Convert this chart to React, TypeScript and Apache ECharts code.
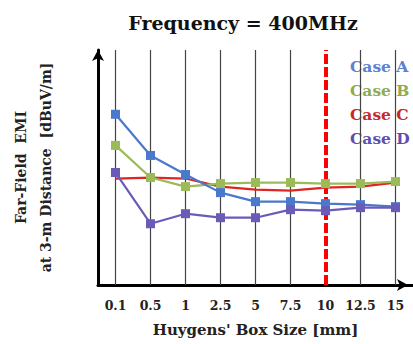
import React, { useEffect, useRef } from "react";
import * as echarts from "echarts";

const categories = ["0.1", "0.5", "1", "2.5", "5", "7.5", "10", "12.5", "15"];
const caseA = [85, 64.5, 55, 46, 41.5, 41.5, 40.5, 40, 39];
const caseB = [69.5, 53.5, 49, 50.5, 51, 51, 50.5, 50.5, 51.5];
const caseC = [53, 53.5, 53, 49, 47.5, 47, 48.5, 49, 51];
const caseD = [56, 30.5, 35.5, 33.5, 33.5, 37.5, 37, 38.5, 38.5];
const markerCategory = "10";

const FONT = "DejaVu Serif";

export default function App() {
  const ref = useRef<HTMLDivElement>(null);
  useEffect(() => {
    const chart = echarts.init(ref.current!, null, { renderer: "svg" });
    const mk = (name: string, data: number[], color: string, symbol: string) => ({
      name,
      type: "line",
      data,
      z: 5,
      symbol,
      symbolSize: 9,
      lineStyle: { color, width: 2.2 },
      itemStyle: { color },
    });
    chart.setOption({
      animation: false,
      title: {
        text: "Frequency = 400MHz",
        left: 238,
        textAlign: "center",
        top: 8,
        textStyle: { fontFamily: FONT, fontWeight: "bold", fontSize: 19, color: "#111" },
      },
      legend: {
        orient: "vertical",
        left: 340,
        top: 52,
        itemWidth: 0,
        itemHeight: 18,
        itemGap: 7,
        textStyle: { fontFamily: FONT, fontWeight: "bold", fontSize: 15.5 },
        data: [
          { name: "Case A", icon: "none", textStyle: { color: "#5b80d4" } },
          { name: "Case B", icon: "none", textStyle: { color: "#8fab4e" } },
          { name: "Case C", icon: "none", textStyle: { color: "#c8282c" } },
          { name: "Case D", icon: "none", textStyle: { color: "#5d4fae" } },
        ],
      },
      grid: { left: 78, right: 0, top: 50, bottom: 59 },
      xAxis: {
        type: "category",
        data: categories,
        boundaryGap: true,
        name: "Huygens' Box Size [mm]",
        nameLocation: "middle",
        nameGap: 37,
        nameTextStyle: { fontFamily: FONT, fontWeight: "bold", fontSize: 15, color: "#222" },
        axisLine: {
          lineStyle: { color: "#000", width: 3 },
          symbol: ["none", "arrow"],
          symbolSize: [9, 11],
          symbolOffset: [0, -5],
        },
        axisTick: { show: false },
        axisLabel: {
          interval: 0,
          hideOverlap: false,
          fontFamily: FONT,
          fontWeight: "bold",
          fontSize: 12.5,
          color: "#222",
          margin: 14,
        },
        splitLine: { show: false },
      },
      yAxis: {
        type: "value",
        min: 0,
        max: 117,
        name: "Far-Field  EMI\nat 3-m Distance  [dBuV/m]",
        nameLocation: "middle",
        nameGap: 40,
        nameTextStyle: { fontFamily: FONT, fontWeight: "bold", fontSize: 14, color: "#222", lineHeight: 25 },
        axisLine: {
          show: true,
          lineStyle: { color: "#000", width: 3 },
          symbol: ["none", "arrow"],
          symbolSize: [9, 11],
          symbolOffset: [0, 0],
        },
        axisTick: { show: false },
        axisLabel: { show: false },
        splitLine: { show: false },
      },
      series: [
        {
          name: "grid",
          type: "line",
          data: [],
          z: 1,
          markLine: {
            silent: true,
            symbol: ["none", "none"],
            label: { show: false },
            lineStyle: { color: "#444", width: 1.2, type: "solid" },
            data: categories.filter((c) => c !== markerCategory).map((c) => ({ xAxis: c })),
          },
        },
        {
          name: "marker",
          type: "line",
          data: [],
          z: 2,
          markLine: {
            silent: true,
            symbol: ["none", "none"],
            label: { show: false },
            lineStyle: { color: "#ff0000", width: 4, type: [10, 3] },
            data: [{ xAxis: markerCategory }],
          },
        },
        mk("Case C", caseC, "#e02424", "none"),
        mk("Case B", caseB, "#9bbb59", "rect"),
        mk("Case A", caseA, "#4a78cc", "rect"),
        mk("Case D", caseD, "#6b5bb8", "rect"),
      ],
    });
    return () => chart.dispose();
  }, []);
  return (
    <div
      ref={ref}
      style={{ position: "fixed", left: 0, top: 0, width: 413, height: 344, background: "#fff" }}
    />
  );
}
